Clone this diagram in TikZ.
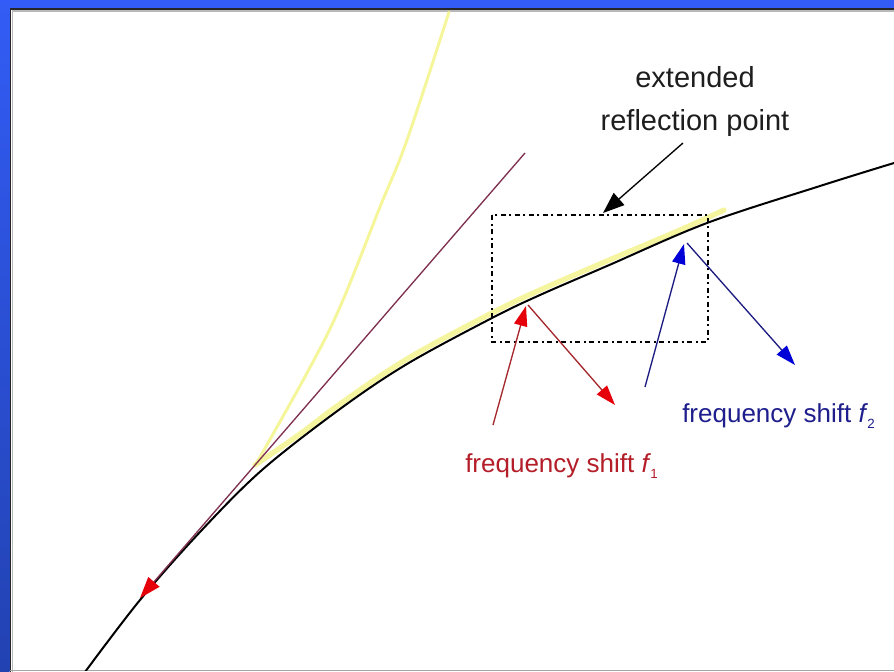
\documentclass[tikz,border=0pt]{standalone}
\usepackage{fontspec}
\setmainfont{Liberation Sans}
\usetikzlibrary{arrows.meta}
\definecolor{bgblue}{RGB}{50,92,245}
\definecolor{bgblue2}{RGB}{34,66,178}
\definecolor{tanline}{RGB}{128,48,80}
\definecolor{paleyel}{RGB}{242,242,120}
\definecolor{redline}{RGB}{165,40,45}
\definecolor{redhead}{RGB}{230,0,10}
\definecolor{redtext}{RGB}{180,30,40}
\definecolor{blueline}{RGB}{30,30,130}
\definecolor{bluehead}{RGB}{0,0,215}
\definecolor{bluetext}{RGB}{30,30,140}
\definecolor{txtgray}{RGB}{30,30,30}
\tikzset{
  curveline/.style={black, line width=1.5pt, line join=round},
  yelband/.style={paleyel, opacity=0.7, line width=4pt, line cap=round},
  yelthin/.style={paleyel, opacity=0.75, line width=2.2pt, line cap=round},
  redarrow/.style={redline, line width=1pt, -{Triangle[length=15pt,width=10pt,color=redhead]}},
  bluearrow/.style={blueline, line width=1pt, -{Triangle[length=15pt,width=10pt,color=bluehead]}},
  blackarrow/.style={black, line width=1pt, -{Triangle[length=16pt,width=12pt]}},
  chordarrow/.style={tanline, line width=1pt, -{Triangle[length=16pt,width=11pt,color=redhead]}},
  boxdash/.style={black, line width=1.4pt, dash pattern=on 4pt off 2.5pt on 1.5pt off 2.5pt},
  headtext/.style={text=txtgray, font=\fontsize{21.75pt}{26pt}\selectfont, inner sep=0pt, anchor=base},
  redlabel/.style={text=redtext, font=\fontsize{19.5pt}{23pt}\selectfont, inner sep=0pt, anchor=base west},
  bluelabel/.style={text=bluetext, font=\fontsize{19.5pt}{23pt}\selectfont, inner sep=0pt, anchor=base west}
}
\begin{document}
\begin{tikzpicture}[x=0.75pt,y=-0.75pt]
\useasboundingbox (0,0) rectangle (894,672);
% frame
\fill[white] (0,0) rectangle (894,672);
\fill[bgblue] (0,0) rectangle (894,7.5);
\shade[top color=bgblue, bottom color=bgblue2] (0,0) rectangle (9.5,672);
\draw[black!85, line width=1.4pt] (10.5,672) -- (10.5,8.8) -- (894,8.8);
\draw[gray!55, line width=0.8pt] (12.6,672) -- (12.6,11) -- (894,11);
\draw[gray!70, line width=1pt] (10,670.8) -- (894,670.8);

\begin{scope}
\clip (11,9) rectangle (894,670);
% steep yellow curve
\draw[yelthin] plot[smooth, tension=0.6] coordinates {(256,464) (307,373) (340,307) (380,207) (407,140) (449,12)};
% yellow band along the main curve
\draw[yelband] plot[smooth, tension=0.6] coordinates {(255,465) (300,434) (340,404) (407,359) (492,313) (540,290) (607,261) (680,230) (724,210)};
% main black curve
\draw[curveline] plot[smooth, tension=0.55] coordinates {(85,672) (140,600) (200,532) (262,470) (340,409) (407,364) (492,318) (540,295) (607,266) (707,223) (820,186) (894,163)};
\end{scope}

% named points
\coordinate (chordA) at (525,153);
\coordinate (chordB) at (140,598);
\coordinate (r1s) at (493,425);
\coordinate (r1e) at (526,306);
\coordinate (r2s) at (528,305);
\coordinate (r2e) at (615,405);
\coordinate (b1s) at (645,387);
\coordinate (b1e) at (684,244);
\coordinate (b2s) at (687,243);
\coordinate (b2e) at (795,365);
\coordinate (ks) at (683,143);
\coordinate (ke) at (603,213);

% chord with red head
\draw[chordarrow] (chordA) -- (chordB);

% dashed box
\node[inner sep=0pt] (boxNW) at (492,215) {};
\node[inner sep=0pt] (boxSE) at (708,342) {};
\draw[boxdash] (boxNW.center) rectangle (boxSE.center);

% arrows
\draw[redarrow] (r1s) -- (r1e);
\draw[redarrow] (r2s) -- (r2e);
\draw[bluearrow] (b1s) -- (b1e);
\draw[bluearrow] (b2s) -- (b2e);
\draw[blackarrow] (ks) -- (ke);

% texts
\node[headtext] (t1) at (695,87) {extended};
\node[headtext] (t2) at (695,130) {reflection point};
\node[redlabel] (lr) at (465,472) {frequency shift \textit{f}\kern-0.5pt\raisebox{-5pt}{\fontsize{10pt}{10pt}\selectfont 1}};
\node[bluelabel] (lb) at (682,422) {frequency shift \textit{f}\kern-0.5pt\raisebox{-5pt}{\fontsize{10pt}{10pt}\selectfont 2}};
\end{tikzpicture}
\end{document}
